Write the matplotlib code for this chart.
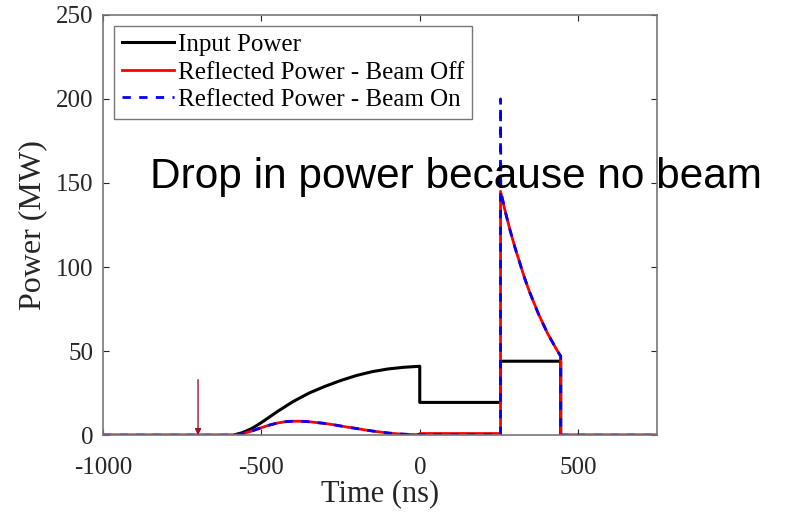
import matplotlib
matplotlib.use("Agg")
import matplotlib.pyplot as plt

# Input power (MW) vs time (ns)
t_in = [-1000, -590, -560, -530, -500, -450, -400, -350, -300, -250, -200, -150, -100, -50, 0,
        0, 255, 255, 445, 445, 750]
p_in = [0, 0, 1.5, 4, 7.5, 14, 20, 25, 29, 32.5, 35.5, 37.8, 39.4, 40.4, 41,
        19.5, 19.5, 44, 44, 0, 0]

# Reflected power, beam off
t_off = [-1000, -590, -560, -530, -500, -475, -450, -425, -400, -375, -350, -325, -300, -275,
         -250, -225, -200, -175, -150, -125, -100, -75, -50, -25, 0,
         0, 255, 255, 270, 285, 300, 315, 330, 345, 360, 375, 390, 405, 420, 435, 445, 445, 750]
p_off = [0, 0, 0.8, 2.5, 4.5, 6, 7.2, 8, 8.3, 8.3, 8, 7.5, 7, 6.3,
         5.5, 4.7, 4, 3.2, 2.5, 1.9, 1.3, 0.9, 0.6, 0.4, 0.3,
         1, 1, 145, 133, 122, 112, 103, 94, 86, 79, 72, 66, 60, 55, 50, 47, 0, 0]

# Reflected power, beam on
t_on = [-1000, -590, -560, -530, -500, -475, -450, -425, -400, -375, -350, -325, -300, -275,
        -250, -225, -200, -175, -150, -125, -100, -75, -50, -25, 0,
        255, 255, 256, 270, 285, 300, 315, 330, 345, 360, 375, 390, 405, 420, 435, 445, 445, 750]
p_on = [0, 0, 0.8, 2.5, 4.5, 6, 7.2, 8, 8.3, 8.3, 8, 7.5, 7, 6.3,
        5.5, 4.7, 4, 3.2, 2.5, 1.9, 1.3, 0.9, 0.6, 0.4, 0.3,
        0.3, 200, 145, 133, 122, 112, 103, 94, 86, 79, 72, 66, 60, 55, 50, 47, 0, 0]

marker_t = -700
marker_top = 33

x_ticks = [-1000, -500, 0, 500]
y_ticks = [0, 50, 100, 150, 200, 250]

serif = ["Liberation Serif", "DejaVu Serif"]
plt.rcParams["font.family"] = serif
plt.rcParams["axes.unicode_minus"] = False

fig = plt.figure(figsize=(8.08, 5.12), dpi=100)
ax = fig.add_axes([0.1275, 0.150, 0.686, 0.821])

ax.plot(t_in, p_in, color="black", lw=2.2, label="Input Power")
ax.plot(t_off, p_off, color="red", lw=2.0, label="Reflected Power - Beam Off")
ax.plot(t_on, p_on, color="blue", lw=2.0, ls=(0, (3, 3)), label="Reflected Power - Beam On")

ax.annotate("", xy=(marker_t, 0), xytext=(marker_t, marker_top),
            arrowprops=dict(arrowstyle="-|>", color="#a0102a", lw=1.0,
                            mutation_scale=9, shrinkA=0, shrinkB=0))

ax.set_xlim(-1000, 750)
ax.set_ylim(0, 250)
ax.set_xticks(x_ticks)
ax.set_yticks(y_ticks)
ax.tick_params(direction="in", top=True, right=True, labelsize=18,
               colors="#262626", length=4, width=0.8)
ax.tick_params(axis="x", pad=16)
ax.tick_params(axis="y", pad=7)
for s in ax.spines.values():
    s.set_color("#777777")
    s.set_linewidth(1.2)

ax.set_xlabel("Time (ns)", fontsize=22, color="#262626", labelpad=0)
ax.set_ylabel("Power (MW)", fontsize=23, color="#262626", labelpad=6)

leg = ax.legend(loc="upper left", fontsize=18, frameon=True, fancybox=False,
                handlelength=2.1, handletextpad=0.15, borderpad=0.3,
                labelspacing=0.2, borderaxespad=0.45)
leg.get_frame().set_edgecolor("#555555")
leg.get_frame().set_linewidth(1.0)

fig.text(150 / 808, 1 - 188 / 512, "Drop in power because no beam",
         fontsize=30.5, family=["Liberation Sans", "DejaVu Sans"],
         color="black", ha="left", va="baseline")

fig.savefig("out.png", dpi=100)
